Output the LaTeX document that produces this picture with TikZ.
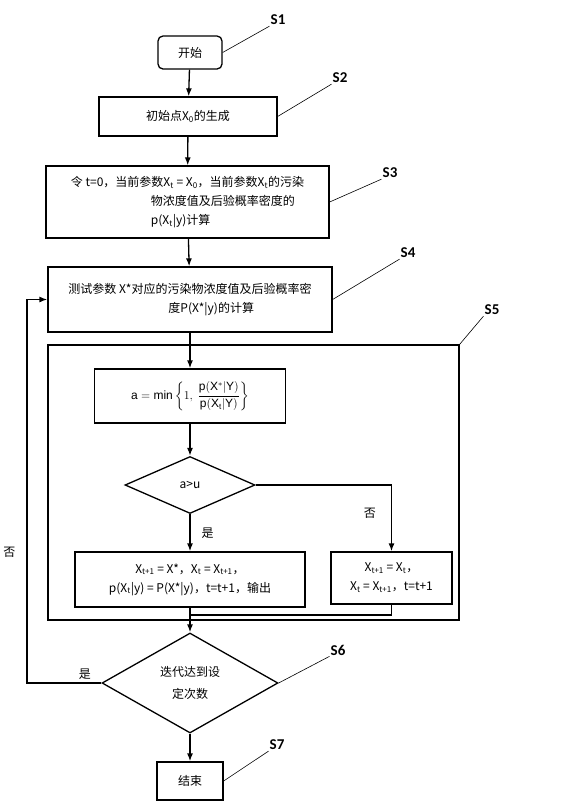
\documentclass[tikz,border=0pt]{standalone}
\usepackage{amsmath}
\usepackage{fontspec}
\setmainfont{Noto Sans CJK SC}
\setsansfont{Liberation Sans}
\newfontfamily\labfont{Carlito}
\usetikzlibrary{arrows.meta,shapes.geometric}

\begin{document}
\begin{tikzpicture}[x=1pt,y=-1pt,>={Latex[length=8pt,width=6pt]},
 box/.style={draw,line width=1.3pt,inner sep=2pt,align=center,font=\fontsize{12}{19}\selectfont},
 decide/.style={diamond,draw,line width=1.3pt,inner sep=0pt,align=center,font=\fontsize{12}{22}\selectfont},
 flow/.style={->,line width=1.3pt},
 lead/.style={line width=0.6pt},
 tag/.style={font=\labfont\bfseries\fontsize{15}{15}\selectfont,inner sep=1pt},
 note/.style={font=\fontsize{12}{14}\selectfont,inner sep=1pt}]
\useasboundingbox (0,0) rectangle (579,807);
\node[box,rounded corners=5pt,minimum width=64pt,minimum height=33pt] (start) at (190,52.5) {开始};
\node[box,minimum width=178pt,minimum height=39pt] (init) at (188,116.5) {初始点X\textsubscript{0}的生成};
\node[box,align=left,minimum width=283pt,minimum height=72pt] (s3box) at (187.5,202)
 {令 t=0，当前参数X\textsubscript{t} = X\textsubscript{0}，当前参数X\textsubscript{t}的污染\\
 \hspace*{80pt}物浓度值及后验概率密度的\\ \hspace*{80pt}p(X\textsubscript{t}|y)计算};
\node[box,align=left,minimum width=284pt,minimum height=65pt] (s4box) at (190,299.5)
 {测试参数 X*对应的污染物浓度值及后验概率密\\ \hspace*{100pt}度P(X*|y)的计算};
\node[draw,line width=1.3pt,minimum width=411pt,minimum height=275pt] (loop) at (253.5,482.5) {};
\node[box,minimum width=191pt,minimum height=54pt] (abox) at (190,396)
 {$\mathsf{a}=\mathsf{min}\left\{1,\ \dfrac{\mathsf{p(X^*|Y)}}{\mathsf{p(X_t|Y)}}\right\}$};
\node[decide,minimum width=130pt,minimum height=57pt] (d1) at (190,485) {a>u};
\node[box,minimum width=230pt,minimum height=55pt] (yesbox) at (190,579.5)
 {X\textsubscript{t+1} = X*，X\textsubscript{t} = X\textsubscript{t+1}，\\ p(X\textsubscript{t}|y) = P(X*|y)，t=t+1，输出};
\node[box,minimum width=121pt,minimum height=52pt] (nobox) at (391.5,578)
 {X\textsubscript{t+1} = X\textsubscript{t}，\\ X\textsubscript{t} = X\textsubscript{t+1}，t=t+1};
\node[decide,minimum width=176pt,minimum height=100pt] (d2) at (190,683) {迭代达到设\\定次数};
\node[box,minimum width=66pt,minimum height=38pt] (end) at (190,781) {结束};
\coordinate (join) at (190,615);
\coordinate (back) at (27,683);
\node[tag] (s1) at (278,20) {S1};
\node[tag] (s2) at (340,78) {S2};
\node[tag] (s3) at (390,173) {S3};
\node[tag] (s4) at (408,253) {S4};
\node[tag] (s5) at (492,310) {S5};
\node[tag] (s6) at (338,650) {S6};
\node[tag] (s7) at (277,745) {S7};
\draw[flow] (start) -- (init);
\draw[flow] (init) -- (s3box);
\draw[flow] (s3box) -- (s4box);
\draw[flow] (s4box) -- (abox);
\draw[flow] (abox) -- (d1);
\draw[flow] (d1.south) -- node[note,right=10pt,pos=0.5]{是} (yesbox);
\draw[flow] (d1.east) -| node[note,pos=0.71,left=14pt]{否} (nobox.north);
\draw[line width=1.3pt] (nobox.south) |- (join);
\draw[flow] (yesbox) -- (d2);
\draw[flow] (d2) -- (end);
\draw[flow] (d2.west) -- node[note,pos=0.22,above=2pt]{是} (back) |- node[note,pos=0.17,left=10pt]{否} (s4box.west);
\draw[lead] (start.east) -- (s1.south west);
\draw[lead] (init.east) -- (s2.south west);
\draw[lead] (s3box.east) -- (s3.south west);
\draw[lead] (s4box.east) -- (s4.south west);
\draw[lead] (loop.north east) -- (s5.south west);
\draw[lead] (d2.east) -- (s6.south west);
\draw[lead] (end.east) -- (s7.south west);
\end{tikzpicture}
\end{document}
